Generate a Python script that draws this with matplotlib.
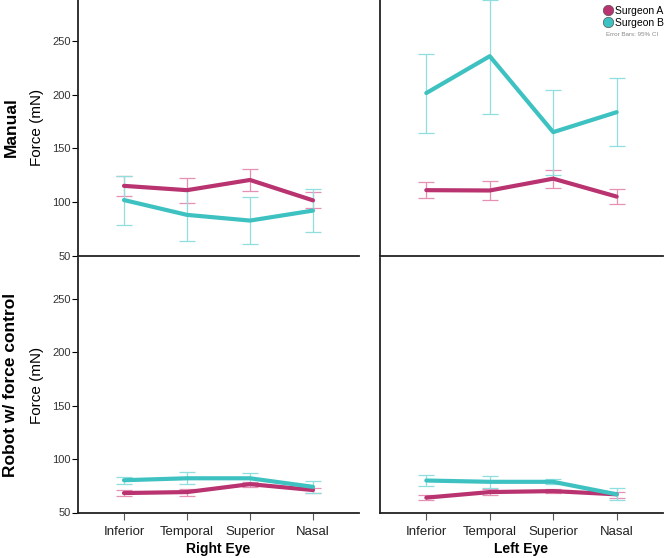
import matplotlib
matplotlib.use("Agg")
import matplotlib.pyplot as plt
from matplotlib.lines import Line2D

plt.rcParams["font.family"] = ["Liberation Sans", "DejaVu Sans"]

categories = ["Inferior", "Temporal", "Superior", "Nasal"]
surgeons = ["Surgeon A", "Surgeon B"]

# Manual, right eye
manual_right_a = [115.0, 111.0, 120.5, 101.5]
manual_right_a_lo = [105.8, 99.0, 110.0, 94.3]
manual_right_a_hi = [124.5, 122.3, 130.4, 109.3]
manual_right_b = [101.8, 88.0, 82.7, 92.0]
manual_right_b_lo = [78.4, 63.5, 61.2, 71.8]
manual_right_b_hi = [124.5, 112.0, 104.6, 112.0]

# Manual, left eye
manual_left_a = [111.0, 110.7, 121.7, 105.0]
manual_left_a_lo = [103.6, 101.8, 113.0, 97.7]
manual_left_a_hi = [118.6, 119.8, 129.8, 112.3]
manual_left_b = [201.4, 235.7, 165.0, 183.6]
manual_left_b_lo = [164.4, 182.1, 125.4, 152.5]
manual_left_b_hi = [238.0, 288.3, 204.6, 215.0]

# Robot w/ force control, right eye
robot_right_a = [68.2, 69.1, 76.5, 71.0]
robot_right_a_lo = [65.4, 65.1, 74.0, 68.2]
robot_right_a_hi = [70.6, 72.2, 78.3, 73.1]
robot_right_b = [80.2, 82.0, 82.0, 74.0]
robot_right_b_lo = [76.9, 76.9, 77.8, 68.0]
robot_right_b_hi = [83.3, 88.2, 87.3, 79.3]

# Robot w/ force control, left eye
robot_left_a = [63.9, 69.1, 70.0, 67.0]
robot_left_a_lo = [61.4, 66.3, 68.2, 63.9]
robot_left_a_hi = [66.3, 71.6, 71.6, 69.5]
robot_left_b = [79.9, 78.7, 78.7, 67.0]
robot_left_b_lo = [74.4, 72.5, 76.2, 61.4]
robot_left_b_hi = [85.5, 83.9, 81.1, 72.5]

yticks = [50, 100, 150, 200, 250]

COL_A = "#b8336f"
COL_A_LIGHT = "#e690b6"
COL_B = "#3ec1c1"
COL_B_LIGHT = "#8fdfdf"

W, H = 666, 558
fig = plt.figure(figsize=(W / 100, H / 100), dpi=100)


def px_axes(x0, x1, y_top, y_bot):
    return fig.add_axes([x0 / W, 1 - y_bot / H, (x1 - x0) / W, (y_bot - y_top) / H])


def draw_series(ax, vals, lo, hi, col, col_light):
    x = list(range(len(categories)))
    yerr = [[v - l for v, l in zip(vals, lo)], [h - v for v, h in zip(vals, hi)]]
    ax.errorbar(x, vals, yerr=yerr, fmt="none", ecolor=col_light,
                elinewidth=0.9, capsize=5.5, capthick=0.9, zorder=2)
    ax.plot(x, vals, color=col, lw=3.0, solid_capstyle="round", zorder=3)


panels = [
    # (x0, x1, ytop, ybot, a, b, left, bottom)
    (78, 359, 0, 255.7,
     (manual_right_a, manual_right_a_lo, manual_right_a_hi),
     (manual_right_b, manual_right_b_lo, manual_right_b_hi), True, False),
    (380, 663, 0, 255.7,
     (manual_left_a, manual_left_a_lo, manual_left_a_hi),
     (manual_left_b, manual_left_b_lo, manual_left_b_hi), False, False),
    (78, 359, 258, 512.5,
     (robot_right_a, robot_right_a_lo, robot_right_a_hi),
     (robot_right_b, robot_right_b_lo, robot_right_b_hi), True, True),
    (380, 663, 258, 512.5,
     (robot_left_a, robot_left_a_lo, robot_left_a_hi),
     (robot_left_b, robot_left_b_lo, robot_left_b_hi), False, True),
]

for x0, x1, yt, yb, a, b, show_y, show_x in panels:
    ax = px_axes(x0, x1, yt, yb)
    draw_series(ax, *a, COL_A, COL_A_LIGHT)
    draw_series(ax, *b, COL_B, COL_B_LIGHT)
    ax.set_xlim(-0.73, 3.73)
    ax.set_ylim(50, 288)
    for s in ["top", "right"]:
        ax.spines[s].set_visible(False)
    for s in ["left", "bottom"]:
        ax.spines[s].set_linewidth(1.3)
        ax.spines[s].set_color("#222222")
    ax.set_facecolor("none")
    if show_y:
        ax.set_yticks(yticks)
        ax.tick_params(axis="y", direction="out", length=4, width=0.8,
                       labelsize=8, labelcolor="#333333", pad=1)
    else:
        ax.set_yticks([])
    if show_x:
        ax.set_xticks(range(len(categories)))
        ax.set_xticklabels(categories)
        ax.tick_params(axis="x", direction="out", length=5, width=0.8,
                       labelsize=9.5, labelcolor="#222222", pad=5,
                       color="#555555")
    else:
        ax.set_xticks([])

# axis titles
fig.text(218 / W, 1 - 549 / H, "Right Eye", ha="center", va="center",
         fontsize=10, fontweight="bold")
fig.text(521 / W, 1 - 549 / H, "Left Eye", ha="center", va="center",
         fontsize=10, fontweight="bold")

# row labels
fig.text(11 / W, 1 - 127 / H, "Manual", rotation=90, ha="center", va="center",
         fontsize=12.5, fontweight="bold")
fig.text(37 / W, 1 - 127 / H, "Force (mN)", rotation=90, ha="center", va="center",
         fontsize=11)
fig.text(11 / W, 1 - 385 / H, "Robot w/ force control", rotation=90, ha="center",
         va="center", fontsize=12.5, fontweight="bold")
fig.text(37 / W, 1 - 385 / H, "Force (mN)", rotation=90, ha="center", va="center",
         fontsize=11)

# legend
handles = [
    Line2D([], [], ls="none", marker="o", markersize=7.5, markerfacecolor=COL_A,
           markeredgecolor="#555555", markeredgewidth=0.5),
    Line2D([], [], ls="none", marker="o", markersize=7.5, markerfacecolor=COL_B,
           markeredgecolor="#555555", markeredgewidth=0.5),
]
fig.legend(handles, surgeons, loc="upper left", bbox_to_anchor=(604 / W, 1 - 6 / H),
           frameon=False, fontsize=7.5, handlelength=0.8, handletextpad=0.3,
           labelspacing=0.15, borderpad=0, borderaxespad=0)
fig.text(606 / W, 1 - 35 / H, "Error Bars: 95% CI", ha="left", va="center",
         fontsize=4.5, color="#888888")

fig.savefig("out.png", dpi=100)
